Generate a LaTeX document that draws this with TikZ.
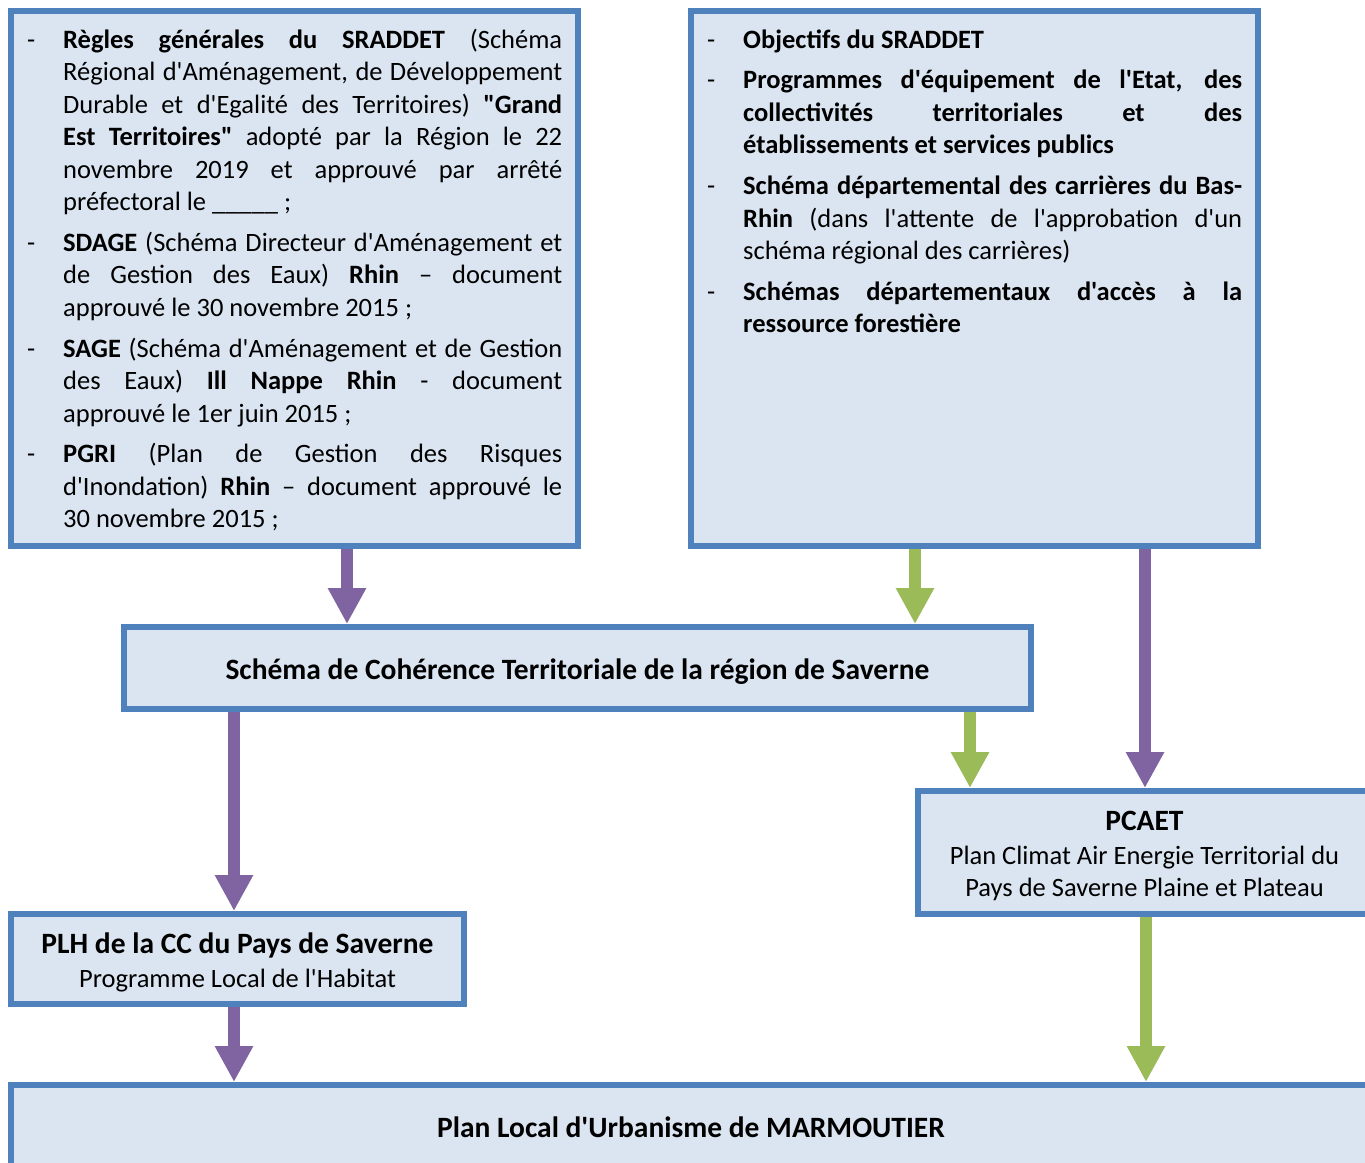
\documentclass[tikz,border=0pt]{standalone}
\usepackage{fontspec}
\setmainfont{Carlito}[Ligatures=TeXOff]
\usetikzlibrary{arrows.meta}
\definecolor{bord}{HTML}{4F81BD}
\definecolor{boxfill}{HTML}{DBE5F1}
\definecolor{purp}{HTML}{8064A2}
\definecolor{grn}{HTML}{9BBB59}
\newcommand{\dashitem}{\leavevmode\llap{\makebox[36pt][l]{-}}}
\begin{document}
\begin{tikzpicture}[x=1pt,y=-1pt,
  box/.style={draw=bord, fill=boxfill, line width=6pt, rectangle, inner sep=0pt, outer sep=3pt},
  bodytxt/.style={anchor=base west, inner sep=0pt, text width=499pt, align=justify,
    font=\fontsize{26.5pt}{32.5pt}\selectfont},
  ctxt/.style={anchor=base, inner sep=0pt, font=\fontsize{26.5pt}{32.5pt}\selectfont},
  ctxtb/.style={anchor=base, inner sep=0pt, font=\fontsize{29.5pt}{36pt}\selectfont\bfseries},
  parrow/.style={draw=purp, line width=12pt, -{Triangle[width=36pt,length=36pt]}},
  garrow/.style={draw=grn, line width=12pt, -{Triangle[width=36pt,length=36pt]}}]
\path[use as bounding box, clip] (0,0) rectangle (1365,1162);

% boxes
\node[box, minimum width=567pt, minimum height=535pt] (b1) at (294.5,278.5) {};
\node[box, minimum width=567pt, minimum height=535pt] (b2) at (974.5,278.5) {};
\node[box, minimum width=907pt, minimum height=82pt] (scot) at (577.5,668) {};
\node[box, minimum width=453pt, minimum height=123pt] (pcaet) at (1144.5,852.5) {};
\node[box, minimum width=453pt, minimum height=90pt] (plh) at (237.5,959) {};
\node[box, minimum width=1360pt, minimum height=85pt] (plu) at (691,1127.5) {};

% centred texts
\node[ctxtb] (scott) at (577.5,679) {Schéma de Cohérence Territoriale de la région de Saverne};
\node[ctxtb] (pcaet1) at (1144.5,830) {PCAET};
\node[ctxt] (pcaet2) at (1144.5,864) {Plan Climat Air Energie Territorial du};
\node[ctxt] (pcaet3) at (1144.5,896) {Pays de Saverne Plaine et Plateau};
\node[ctxtb] (plh1) at (237.5,953) {PLH de la CC du Pays de Saverne};
\node[ctxt] (plh2) at (237.5,987) {Programme Local de l'Habitat};
\node[ctxtb] (plut) at (691,1137) {Plan Local d'Urbanisme de MARMOUTIER};

% box texts
\node[bodytxt] (t1) at (63,48) {\setlength{\parskip}{8.3pt}\tolerance=10000 \hyphenpenalty=10000
\dashitem\textbf{Règles générales du SRADDET} (Schéma\linebreak Régional d'Aménagement, de Développement\linebreak Durable et d'Egalité des Territoires) \textbf{"Grand\linebreak Est Territoires"} adopté par la Région le 22\linebreak novembre 2019 et approuvé par arrêté\linebreak préfectoral le \_\_\_\_\_ ;\par
\dashitem\textbf{SDAGE} (Schéma Directeur d'Aménagement et\linebreak de Gestion des Eaux) \textbf{Rhin} – document\linebreak approuvé le 30 novembre 2015 ;\par
\dashitem\textbf{SAGE} (Schéma d'Aménagement et de Gestion\linebreak des Eaux) \textbf{Ill Nappe Rhin} - document\linebreak approuvé le 1er juin 2015 ;\par
\dashitem\textbf{PGRI} (Plan de Gestion des Risques\linebreak d'Inondation) \textbf{Rhin} – document approuvé le\linebreak 30 novembre 2015 ;};

\node[bodytxt] (t2) at (743,48) {\setlength{\parskip}{8.3pt}\tolerance=10000 \hyphenpenalty=10000
\dashitem\textbf{Objectifs du SRADDET}\par
\dashitem\textbf{Programmes d'équipement de l'Etat, des\linebreak collectivités territoriales et des\linebreak établissements et services publics}\par
\dashitem\textbf{Schéma départemental des carrières du Bas-\linebreak Rhin} (dans l'attente de l'approbation d'un\linebreak schéma régional des carrières)\par
\dashitem\textbf{Schémas départementaux d'accès à la\linebreak ressource forestière}};

% arrow x positions
\coordinate (xa) at (347,0);
\coordinate (xb) at (915,0);
\coordinate (xc) at (1145,0);
\coordinate (xd) at (970,0);
\coordinate (xe) at (234,0);
\coordinate (xf) at (1146,0);

\draw[parrow] (b1.south -| xa) -- (scot.north -| xa);
\draw[garrow] (b2.south -| xb) -- (scot.north -| xb);
\draw[parrow] (b2.south -| xc) -- (pcaet.north -| xc);
\draw[garrow] (scot.south -| xd) -- (pcaet.north -| xd);
\draw[parrow] (scot.south -| xe) -- (plh.north -| xe);
\draw[parrow] (plh.south -| xe) -- (plu.north -| xe);
\draw[garrow] (pcaet.south -| xf) -- (plu.north -| xf);
\end{tikzpicture}
\end{document}
